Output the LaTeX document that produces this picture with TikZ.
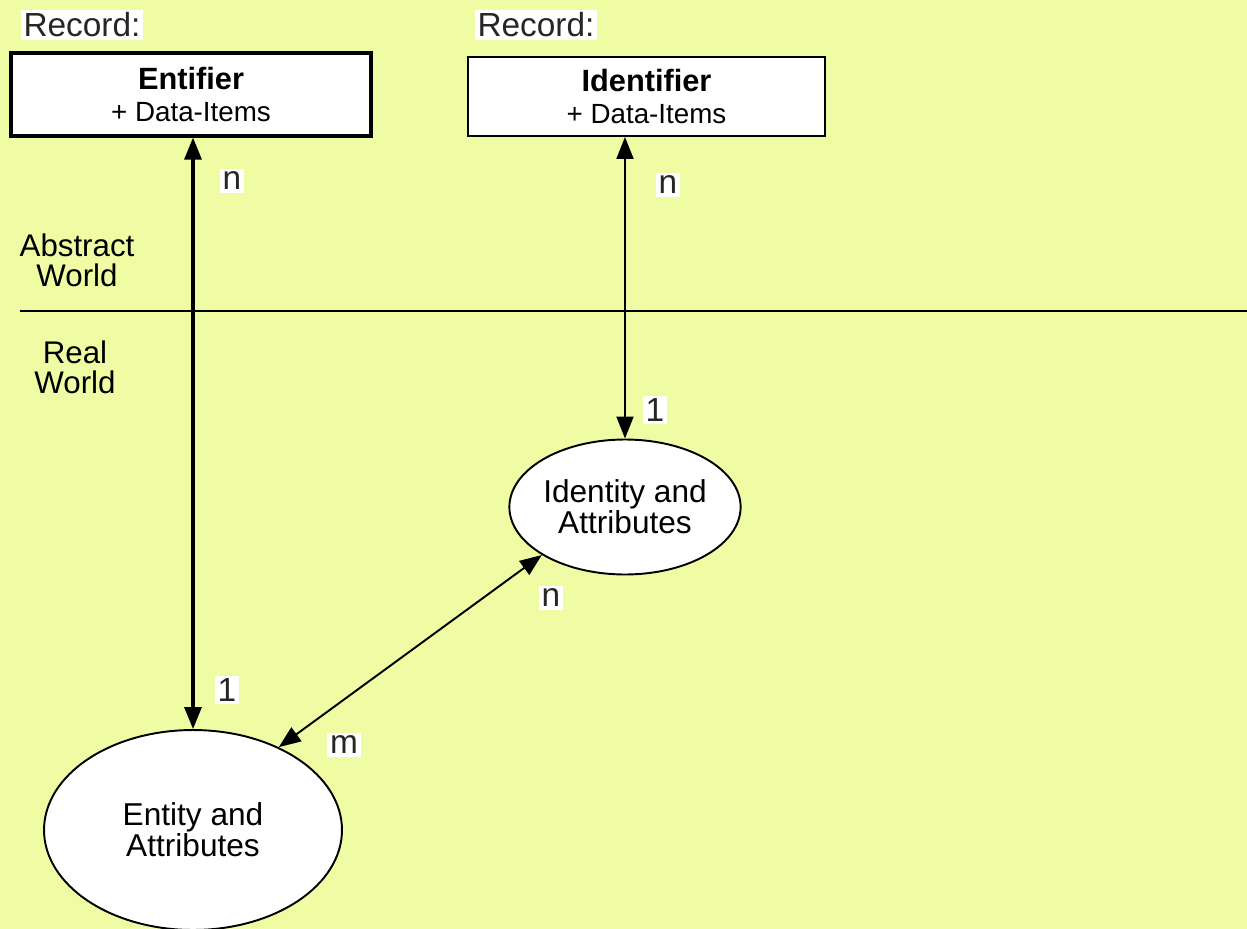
\documentclass[tikz,border=0pt]{standalone}
\usepackage{fontspec}
\setmainfont{Liberation Sans}
\usetikzlibrary{arrows.meta,%
                shapes.geometric}
\definecolor{paper}{RGB}{240,252,164}
\newcommand{\rectitle}[1]{{\fontsize{17.5}{18}\selectfont\bfseries #1}}
\tikzstyle{record}=[rectangle, draw, line width=1.1pt, fill=white, minimum width=7.14cm, minimum height=1.58cm, inner sep=0pt, align=center, font=\fontsize{15.8}{18}\selectfont]
\tikzstyle{thickrecord}=[record, line width=1.8pt, minimum width=7.2cm, minimum height=1.66cm]
\tikzstyle{thing}=[ellipse, draw, line width=1.1pt, fill=white, inner sep=0pt, align=center, font=\fontsize{18}{17.5}\selectfont]
\tikzstyle{caption}=[fill=white, inner sep=1.5pt, text=black!85, font=\fontsize{19}{21}\selectfont]
\tikzstyle{card}=[fill=white, inner sep=1.5pt, text=black!85, font=\fontsize{19}{21}\selectfont]
\tikzstyle{world}=[align=center, font=\fontsize{17.8}{17}\selectfont]
\tikzstyle{link}=[{Triangle[length=0.44cm,width=0.34cm]}-{Triangle[length=0.44cm,width=0.34cm]}, line width=1.1pt]
\tikzstyle{thicklink}=[link, line width=1.8pt]

\begin{document}
\begin{tikzpicture}[x=0.02cm, y=-0.02cm]
  \useasboundingbox (0,0) rectangle (1247,929);
  \fill[paper] (0,0) rectangle (1247,929);

  % records
  \node[caption] (rec1) at (82,25) {Record:};
  \node[caption] (rec2) at (536,25) {Record:};
  \node[thickrecord] (entifier) at (191,94.5) {\rectitle{Entifier}\\+ Data-Items};
  \node[record] (identifier) at (646.5,96.5) {\rectitle{Identifier}\\+ Data-Items};

  % things
  \node[thing, minimum width=5.96cm, minimum height=4cm] (entity) at (193,830) {Entity and\\Attributes};
  \node[thing, minimum width=4.52cm, minimum height=2.7cm] (identity) at (625,507) {Identity and\\Attributes};

  % worlds
  \coordinate (divL) at (20,311);
  \coordinate (divR) at (1247,311);
  \draw[line width=1.1pt] (divL) -- (divR);
  \node[world] (abstract) at (77,260) {Abstract\\World};
  \node[world] (real) at (75,367) {Real\\World};

  % links
  \draw[thicklink] (entity.north |- entifier.south) -- (entity.north);
  \draw[link] (identity.north |- identifier.south) -- (identity.north);
  \draw[link] (entity.44) -- (identity.210);

  \node[card] (n1) at (232,181) {n};
  \node[card] (one1) at (227,690) {1};
  \node[card] (n2) at (668,185) {n};
  \node[card] (one2) at (655,410) {1};
  \node[card] (n3) at (551,598) {n};
  \node[card] (m3) at (344,745) {m};
\end{tikzpicture}
\end{document}
